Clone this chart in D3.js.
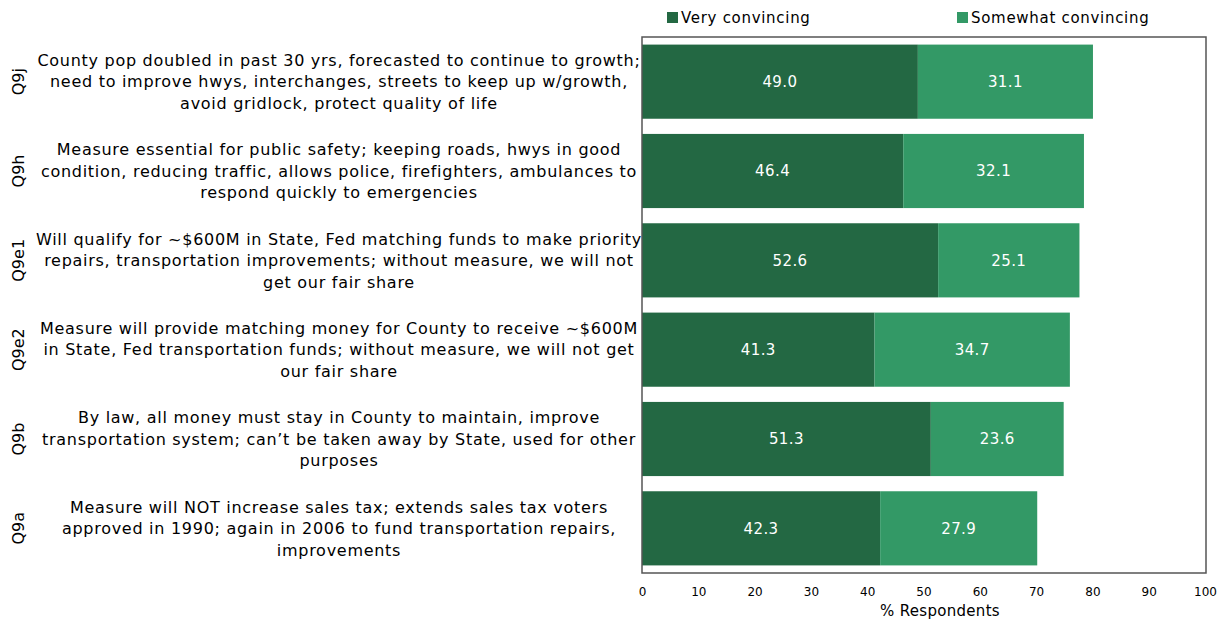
<!DOCTYPE html>
<html>
<head>
<meta charset="utf-8">
<script src="https://cdn.jsdelivr.net/npm/d3@7"></script>
<style>
  body { margin: 0; background: #fff; }
  svg { display: block; }
  text { font-family: "DejaVu Sans", sans-serif; }
</style>
</head>
<body>
<svg id="chart" width="1224" height="622"></svg>
<script>
// Question codes (top to bottom)
const codes = ["Q9j", "Q9h", "Q9e1", "Q9e2", "Q9b", "Q9a"];
// Statement text for each question, one array entry per line
const statements = [
  ["County pop doubled in past 30 yrs, forecasted to continue to growth;",
   "need to improve hwys, interchanges, streets to keep up w/growth,",
   "avoid gridlock, protect quality of life"],
  ["Measure essential for public safety; keeping roads, hwys in good",
   "condition, reducing traffic, allows police, firefighters, ambulances to",
   "respond quickly to emergencies"],
  ["Will qualify for ~$600M in State, Fed matching funds to make priority",
   "repairs, transportation improvements; without measure, we will not",
   "get our fair share"],
  ["Measure will provide matching money for County to receive ~$600M",
   "in State, Fed transportation funds; without measure, we will not get",
   "our fair share"],
  ["By law, all money must stay in County to maintain, improve",
   "transportation system; can\u2019t be taken away by State, used for other",
   "purposes"],
  ["Measure will NOT increase sales tax; extends sales tax voters",
   "approved in 1990; again in 2006 to fund transportation repairs,",
   "improvements"]
];
const veryConvincing = [49.0, 46.4, 52.6, 41.3, 51.3, 42.3];
const somewhatConvincing = [31.1, 32.1, 25.1, 34.7, 23.6, 27.9];
const seriesNames = ["Very convincing", "Somewhat convincing"];
const xTicks = [0, 10, 20, 30, 40, 50, 60, 70, 80, 90, 100];
const axisTitle = "% Respondents";

const colors = ["#236843", "#339966"];

const svg = d3.select("#chart");
const plot = { left: 642, right: 1205, top: 37, bottom: 573 };

const x = d3.scaleLinear().domain([0, 100]).range([plot.left, plot.right]);
const y = d3.scaleBand().domain(codes).range([plot.top, plot.bottom]).paddingInner(0.17).paddingOuter(0.085);

// stacked segments
const rows = codes.map((c, i) => ({ code: c, vals: [veryConvincing[i], somewhatConvincing[i]] }));
rows.forEach(r => {
  let acc = 0;
  r.segs = r.vals.map((v, k) => { const s = { x0: acc, x1: acc + v, v, k }; acc += v; return s; });
});

const g = svg.append("g");
const rowG = g.selectAll("g.row").data(rows).join("g").attr("class", "row");
rowG.selectAll("rect").data(d => d.segs.map(s => ({ ...s, code: d.code }))).join("rect")
  .attr("x", s => x(s.x0))
  .attr("width", s => x(s.x1) - x(s.x0))
  .attr("y", s => y(s.code))
  .attr("height", y.bandwidth())
  .attr("fill", s => colors[s.k]);
rowG.selectAll("text.val").data(d => d.segs.map(s => ({ ...s, code: d.code }))).join("text")
  .attr("class", "val")
  .attr("x", s => (x(s.x0) + x(s.x1)) / 2)
  .attr("y", s => y(s.code) + y.bandwidth() / 2)
  .attr("dy", "0.36em")
  .attr("text-anchor", "middle")
  .attr("fill", "#fff")
  .attr("font-size", 15)
  .attr("letter-spacing", 0.4)
  .text(s => s.v.toFixed(1));

// plot frame
svg.append("rect")
  .attr("x", plot.left).attr("y", plot.top)
  .attr("width", plot.right + 1 - plot.left).attr("height", plot.bottom - plot.top)
  .attr("fill", "none").attr("stroke", "#555").attr("stroke-width", 1.5);

// x axis (labels only)
const xAxis = svg.append("g")
  .attr("transform", `translate(0,${plot.bottom})`)
  .call(d3.axisBottom(x).tickValues(xTicks).tickSize(0).tickPadding(14));
xAxis.select(".domain").remove();
xAxis.selectAll("text").attr("font-size", 12).attr("fill", "#000")
  .attr("font-family", "DejaVu Sans, sans-serif");

svg.append("text")
  .attr("x", 940).attr("y", 616)
  .attr("text-anchor", "middle").attr("font-size", 15).attr("fill", "#000")
  .attr("letter-spacing", 0.3)
  .text(axisTitle);

// category labels
codes.forEach((c, i) => {
  const cy = y(c) + y.bandwidth() / 2;
  svg.append("text")
    .attr("transform", `translate(24,${cy}) rotate(-90)`)
    .attr("text-anchor", "middle")
    .attr("font-size", 16).attr("fill", "#000")
    .text(c);
  const lines = statements[i];
  const lh = 21.5;
  const t = svg.append("text")
    .attr("text-anchor", "middle")
    .attr("font-size", 16).attr("fill", "#000")
    .attr("letter-spacing", 0.72);
  lines.forEach((ln, j) => {
    t.append("tspan")
      .attr("x", 339)
      .attr("y", cy + (j - (lines.length - 1) / 2) * lh)
      .attr("dy", "0.36em")
      .text(ln);
  });
});

// legend
const legendX = [667, 957];
seriesNames.forEach((n, k) => {
  svg.append("rect").attr("x", legendX[k]).attr("y", 12).attr("width", 11).attr("height", 11).attr("fill", colors[k]);
  svg.append("text").attr("x", legendX[k] + 14).attr("y", 18).attr("dy", "0.36em")
    .attr("font-size", 15).attr("fill", "#000").attr("letter-spacing", 0.7).text(n);
});
</script>
</body>
</html>
